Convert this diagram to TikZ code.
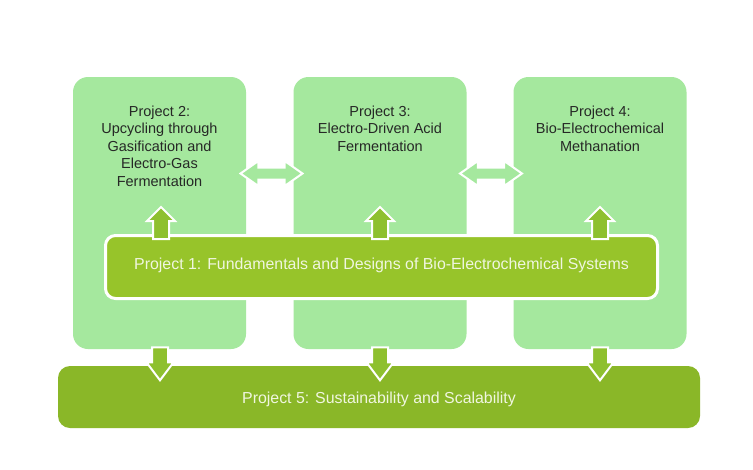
\documentclass[tikz,border=0pt]{standalone}
\usepackage{fontspec}
\setmainfont{Liberation Sans}
\usetikzlibrary{shapes.arrows}

\definecolor{lightgreen}{RGB}{165,232,158}
\definecolor{midgreen}{RGB}{151,196,42}
\definecolor{darkgreen}{RGB}{138,183,40}
\definecolor{arrowgreen}{RGB}{142,192,46}
\definecolor{labelgray}{RGB}{38,40,38}
\definecolor{labelwhite}{RGB}{240,246,224}

\tikzset{
  subproj/.style={fill=lightgreen, rounded corners=15pt, minimum width=173pt, minimum height=272pt, inner sep=0pt},
  subtext/.style={align=center, text=labelgray, font=\fontsize{14.5}{17.5}\selectfont, inner sep=0pt, anchor=north},
  corebox/.style={fill=midgreen, draw=white, line width=3pt, rounded corners=10pt, minimum width=552pt, minimum height=63pt},
  basebox/.style={fill=darkgreen, rounded corners=12pt, minimum width=642pt, minimum height=62pt},
  maintext/.style={text=labelwhite, font=\fontsize{15.9}{18}\selectfont, inner sep=0pt},
  liftarrow/.style={single arrow, fill=arrowgreen, draw=white, line width=2pt, inner xsep=0pt, inner ysep=7pt,
    minimum width=0pt, single arrow head extend=6pt, minimum height=32pt},
  droparrow/.style={liftarrow, single arrow head extend=5.5pt, single arrow tip angle=74, minimum height=33pt},
  linkarrow/.style={double arrow, fill=lightgreen, draw=white, line width=2pt, inner xsep=0pt, inner ysep=5pt,
    minimum width=0pt, double arrow head extend=6.5pt, double arrow tip angle=70, minimum height=62pt}
}

\begin{document}
\begin{tikzpicture}[x=1pt, y=-1pt]
    \useasboundingbox[fill=white] (0,0) rectangle (753,469);
    % the three sub-projects
    \node[subproj] (p2) at (159.5,213) {};
    \node[subproj] (p3) at (380,213) {};
    \node[subproj] (p4) at (600,213) {};
    \node[subtext] (t2) at (159.5,105.5) {Project 2:\\Upcycling through\\Gasification and\\Electro-Gas\\Fermentation};
    \node[subtext] (t3) at (380,105.5) {Project 3:\\Electro-Driven Acid\\Fermentation};
    \node[subtext] (t4) at (600,105.5) {Project 4:\\Bio-Electrochemical\\Methanation};
    % exchange between neighbours
    \node[linkarrow] (l23) at (271.5,173.5) {};
    \node[linkarrow] (l34) at (491,173.5) {};
    % fundamentals
    \node[corebox] (p1) at (381.5,267) {};
    \node[maintext] (t1) at (381.5,265.5) {Project 1: Fundamentals and Designs of Bio-Electrochemical Systems};
    \node[liftarrow, rotate=90] (u2) at (161,227) {};
    \node[liftarrow, rotate=90] (u3) at (380,227) {};
    \node[liftarrow, rotate=90] (u4) at (600,227) {};
    % sustainability
    \node[basebox] (p5) at (379,397) {};
    \node[maintext] (t5) at (379,399) {Project 5: Sustainability and Scalability};
    \node[droparrow, rotate=-90] (d2) at (160,358.5) {};
    \node[droparrow, rotate=-90] (d3) at (380,358.5) {};
    \node[droparrow, rotate=-90] (d4) at (600,358.5) {};
\end{tikzpicture}
\end{document}
